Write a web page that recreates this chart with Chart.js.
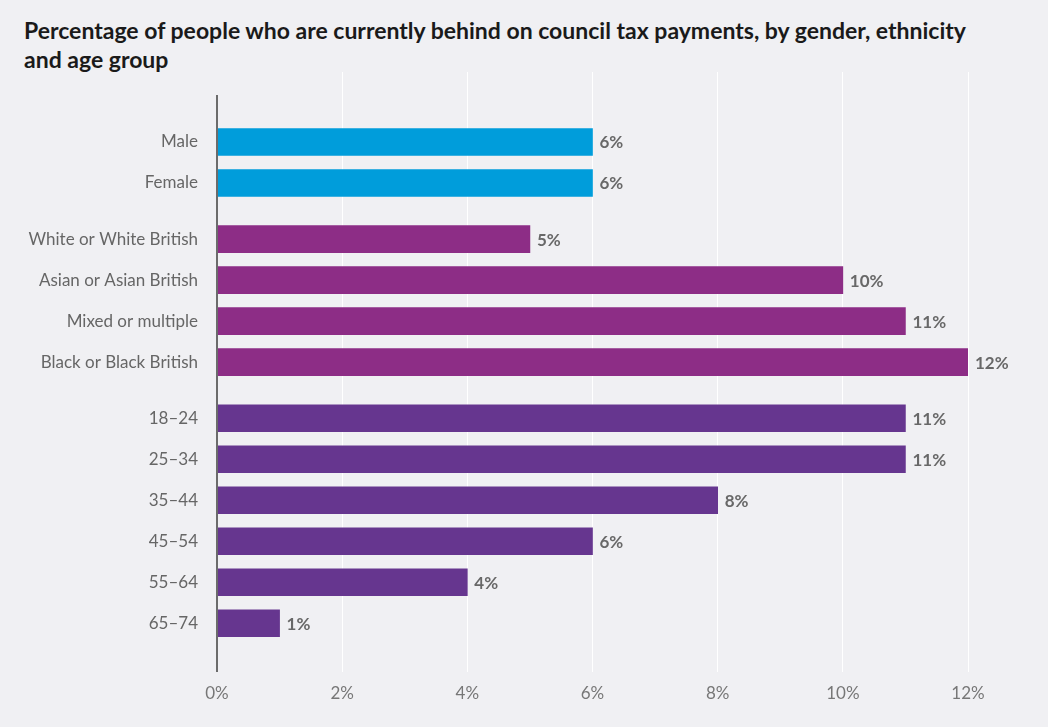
<!DOCTYPE html>
<html>
<head>
<meta charset="utf-8">
<script src="https://cdn.jsdelivr.net/npm/chart.js@4"></script>
<style>
  html, body { margin: 0; padding: 0; background: #f0f0f3; }
  #wrap { position: relative; width: 1048px; height: 727px; }
  #title {
    position: absolute; left: 24px; top: 16px; margin: 0;
    font: bold 23px Lato, sans-serif; line-height: 29px; color: #1a1a1a;
    white-space: nowrap;
  }
  canvas { position: absolute; left: 0; top: 0; }
</style>
</head>
<body>
<div id="wrap">
  <h1 id="title">Percentage of people who are currently behind on council tax payments, by gender, ethnicity<br>and age group</h1>
  <canvas id="chart" width="1048" height="727"></canvas>
</div>
<script>
// groups of categories, each group gets its own colour
const genderLabels = ["Male", "Female"];
const genderValues = [6, 6];
const ethnicityLabels = ["White or White British", "Asian or Asian British", "Mixed or multiple", "Black or Black British"];
const ethnicityValues = [5, 10, 11, 12];
const ageLabels = ["18–24", "25–34", "35–44", "45–54", "55–64", "65–74"];
const ageValues = [11, 11, 8, 6, 4, 1];
const xTicks = [0, 2, 4, 6, 8, 10, 12];

const groups = [
    { labels: genderLabels, values: genderValues, color: '#009ddb' },
    { labels: ethnicityLabels, values: ethnicityValues, color: '#8d2d86' },
    { labels: ageLabels, values: ageValues, color: '#66368f' }
];

const GROUP_GAP = 0.37; // extra space between groups, in rows

// build row positions from the groups
const allLabels = [];
const allValues = [];
const allColors = [];
const positions = [];
let row = 0;
groups.forEach((g, gi) => {
    g.labels.forEach((lab, i) => {
        allLabels.push(lab);
        allValues.push(g.values[i]);
        allColors.push(g.color);
        positions.push(row + gi * GROUP_GAP);
        row++;
    });
});

const points = allValues.map((v, i) => ({ x: v, y: positions[i] }));
const labelFor = {};
positions.forEach((p, i) => { labelFor[p.toFixed(3)] = allLabels[i]; });

const valueLabels = {
    id: 'valueLabels',
    afterDatasetsDraw(chart) {
        const { ctx } = chart;
        const meta = chart.getDatasetMeta(0);
        ctx.save();
        ctx.font = 'bold 17px Lato, sans-serif';
        ctx.fillStyle = '#686868';
        ctx.textAlign = 'left';
        ctx.textBaseline = 'middle';
        meta.data.forEach((bar, i) => {
            ctx.fillText(allValues[i] + '%', bar.x + 7, bar.y + 1);
        });
        ctx.restore();
    }
};

const zeroLine = {
    id: 'zeroLine',
    afterDatasetsDraw(chart) {
        const { ctx, chartArea, scales } = chart;
        const x0 = scales.x.getPixelForValue(0);
        ctx.save();
        ctx.strokeStyle = '#6b6b6b';
        ctx.lineWidth = 2;
        ctx.beginPath();
        ctx.moveTo(x0, chartArea.top + 23);
        ctx.lineTo(x0, chartArea.bottom);
        ctx.stroke();
        ctx.restore();
    }
};

new Chart(document.getElementById('chart'), {
    type: 'bar',
    data: {
        datasets: [{
            data: points,
            backgroundColor: allColors,
            barThickness: 27,
            borderWidth: 0
        }]
    },
    options: {
        indexAxis: 'y',
        responsive: false,
        animation: false,
        layout: { padding: { top: 72, right: 80, bottom: 0, left: 0 } },
        plugins: {
            legend: { display: false },
            tooltip: { enabled: false }
        },
        scales: {
            x: {
                type: 'linear',
                min: 0,
                max: 12,
                afterBuildTicks(scale) { scale.ticks = xTicks.map(v => ({ value: v })); },
                afterFit(scale) { scale.height = 55; },
                grid: {
                    color: ctx => ctx.tick && ctx.tick.value === 0 ? 'rgba(0,0,0,0)' : '#ffffff',
                    lineWidth: 1,
                    drawTicks: false
                },
                border: { display: false },
                ticks: {
                    padding: 11,
                    color: '#777777',
                    font: { family: 'Lato, sans-serif', size: 17 },
                    callback: v => v + '%'
                }
            },
            y: {
                type: 'linear',
                reverse: true,
                offset: false,
                min: -1.707,
                max: 12.93,
                afterBuildTicks(scale) { scale.ticks = positions.map(p => ({ value: p })); },
                afterFit(scale) { scale.width = 217; },
                grid: { display: false, drawTicks: false, offset: false },
                border: { display: false },
                ticks: {
                    padding: 19,
                    color: '#666666',
                    font: { family: 'Lato, sans-serif', size: 17 },
                    callback: v => labelFor[Number(v).toFixed(3)] || ''
                }
            }
        }
    },
    plugins: [valueLabels, zeroLine]
});
</script>
</body>
</html>
